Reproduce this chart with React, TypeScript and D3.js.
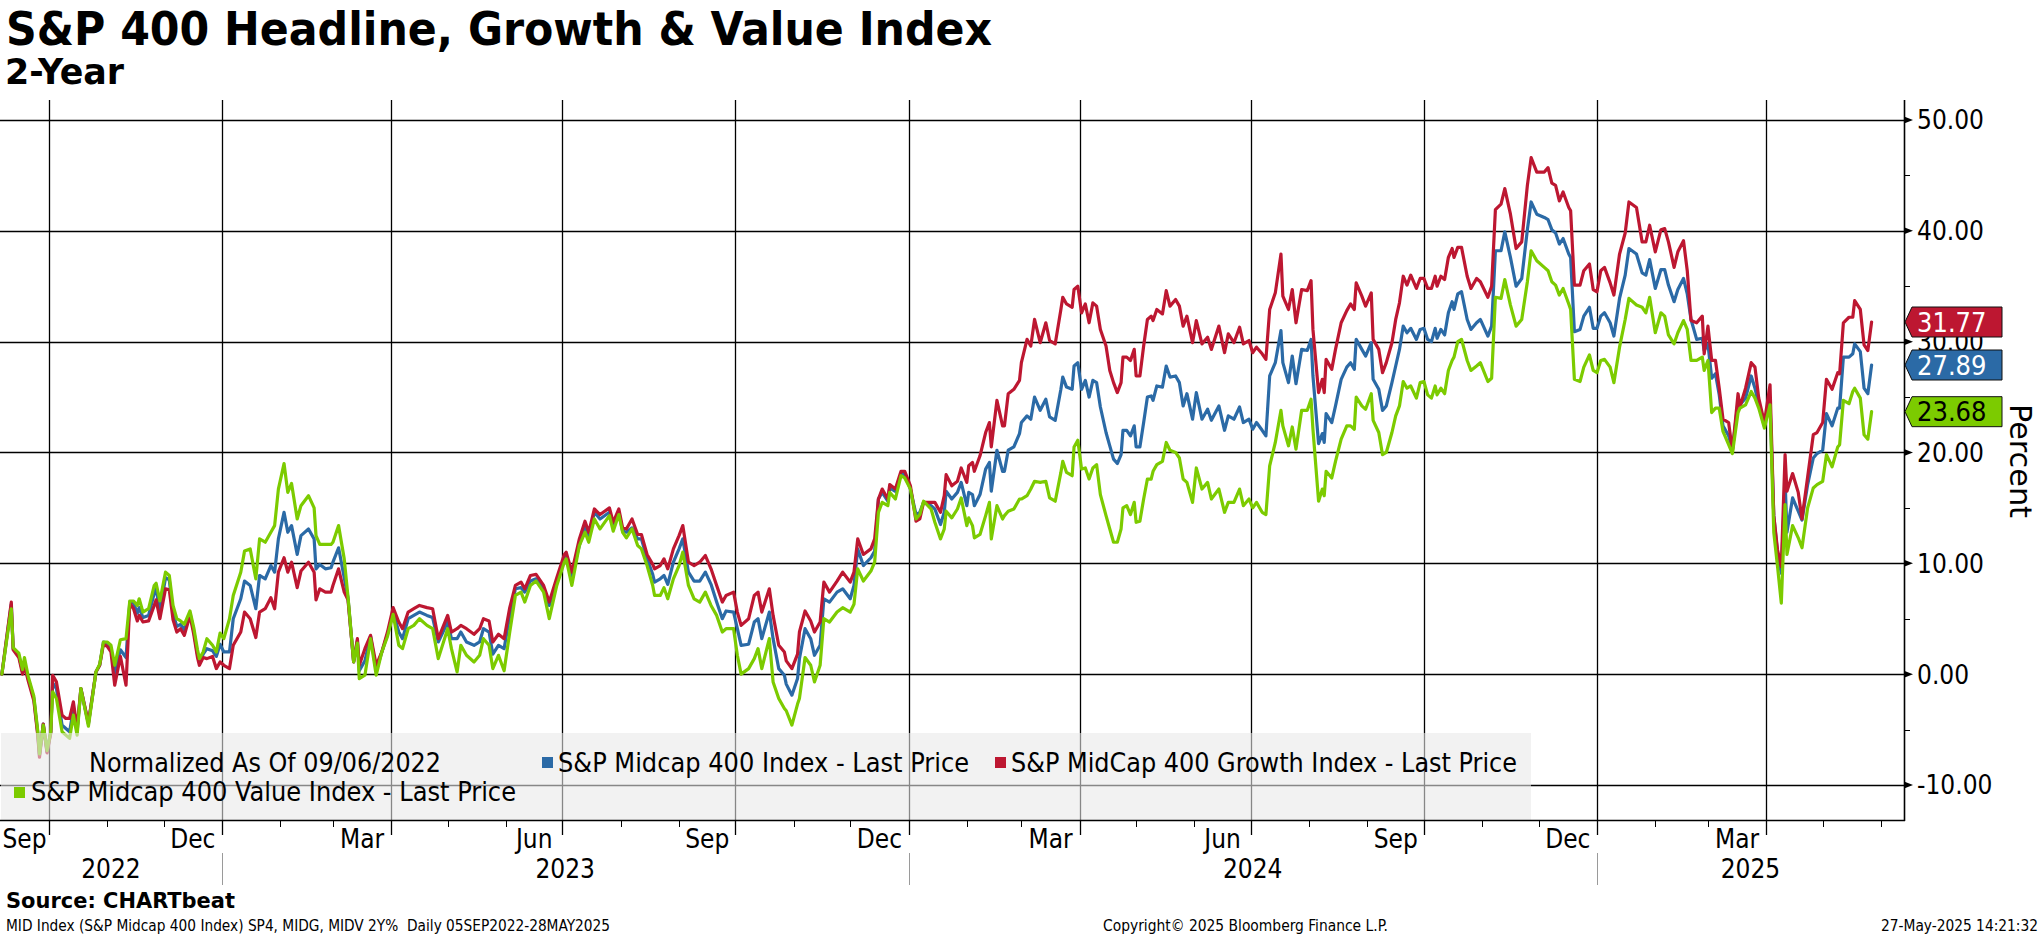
import React from 'react';
import * as d3 from 'd3';

// ---------------- DATA ----------------
const dates: string[] = [
  '2022-09-06','2022-09-09','2022-09-11','2022-09-12','2022-09-15','2022-09-17','2022-09-18','2022-09-20','2022-09-23','2022-09-25',
  '2022-09-26','2022-09-28','2022-09-30','2022-10-02','2022-10-03','2022-10-05','2022-10-08','2022-10-10','2022-10-12','2022-10-14',
  '2022-10-16','2022-10-18','2022-10-22','2022-10-26','2022-10-28','2022-10-30','2022-11-01','2022-11-03','2022-11-05','2022-11-08',
  '2022-11-11','2022-11-13','2022-11-15','2022-11-17','2022-11-18','2022-11-20','2022-11-23','2022-11-26','2022-11-27','2022-11-29',
  '2022-12-02','2022-12-04','2022-12-06','2022-12-08','2022-12-10','2022-12-12','2022-12-15','2022-12-17','2022-12-19','2022-12-20',
  '2022-12-22','2022-12-24','2022-12-27','2022-12-29','2022-12-31','2023-01-02','2023-01-05','2023-01-07','2023-01-11','2023-01-13',
  '2023-01-16','2023-01-19','2023-01-21','2023-01-24','2023-01-27','2023-01-29','2023-01-31','2023-02-03','2023-02-05','2023-02-07',
  '2023-02-10','2023-02-12','2023-02-16','2023-02-19','2023-02-20','2023-02-22','2023-02-25','2023-02-28','2023-03-01','2023-03-04',
  '2023-03-07','2023-03-09','2023-03-12','2023-03-14','2023-03-15','2023-03-18','2023-03-21','2023-03-24','2023-03-27','2023-03-30',
  '2023-04-02','2023-04-05','2023-04-07','2023-04-10','2023-04-13','2023-04-16','2023-04-20','2023-04-23','2023-04-26','2023-05-01',
  '2023-05-03','2023-05-06','2023-05-08','2023-05-11','2023-05-15','2023-05-18','2023-05-20','2023-05-23','2023-05-25','2023-05-28',
  '2023-05-31','2023-06-03','2023-06-06','2023-06-09','2023-06-11','2023-06-14','2023-06-17','2023-06-21','2023-06-24','2023-06-28',
  '2023-07-02','2023-07-03','2023-07-06','2023-07-10','2023-07-13','2023-07-15','2023-07-18','2023-07-21','2023-07-26','2023-07-28',
  '2023-07-31','2023-08-02','2023-08-04','2023-08-07','2023-08-10','2023-08-12','2023-08-15','2023-08-18','2023-08-19','2023-08-22',
  '2023-08-24','2023-08-26','2023-08-29','2023-09-01','2023-09-03','2023-09-06','2023-09-09','2023-09-12','2023-09-15','2023-09-18',
  '2023-09-21','2023-09-24','2023-09-26','2023-09-30','2023-10-02','2023-10-04','2023-10-08','2023-10-11','2023-10-13','2023-10-15',
  '2023-10-19','2023-10-21','2023-10-24','2023-10-27','2023-10-28','2023-10-31','2023-11-03','2023-11-04','2023-11-07','2023-11-10',
  '2023-11-12','2023-11-15','2023-11-17','2023-11-20','2023-11-24','2023-11-27','2023-12-01','2023-12-03','2023-12-05','2023-12-08',
  '2023-12-12','2023-12-14','2023-12-16','2023-12-18','2023-12-21','2023-12-22','2023-12-25','2023-12-28','2023-12-30','2024-01-02',
  '2024-01-05','2024-01-07','2024-01-09','2024-01-13','2024-01-15','2024-01-18','2024-01-20','2024-01-21','2024-01-24','2024-01-27',
  '2024-01-29','2024-02-01','2024-02-02','2024-02-04','2024-02-05','2024-02-08','2024-02-11','2024-02-13','2024-02-14','2024-02-17',
  '2024-02-20','2024-02-21','2024-02-23','2024-02-26','2024-02-29','2024-03-01','2024-03-04','2024-03-06','2024-03-08','2024-03-11',
  '2024-03-14','2024-03-16','2024-03-19','2024-03-22','2024-03-23','2024-03-25','2024-03-28','2024-03-29','2024-03-31','2024-04-02',
  '2024-04-04','2024-04-06','2024-04-08','2024-04-10','2024-04-12','2024-04-15','2024-04-17','2024-04-19','2024-04-21','2024-04-23',
  '2024-04-24','2024-04-26','2024-04-28','2024-04-30','2024-05-01','2024-05-03','2024-05-05','2024-05-07','2024-05-09','2024-05-10',
  '2024-05-12','2024-05-15','2024-05-17','2024-05-19','2024-05-22','2024-05-24','2024-05-26','2024-05-28','2024-05-31','2024-06-02',
  '2024-06-05','2024-06-08','2024-06-10','2024-06-14','2024-06-17','2024-06-19','2024-06-22','2024-06-25','2024-06-27','2024-06-30',
  '2024-07-02','2024-07-04','2024-07-07','2024-07-09','2024-07-11','2024-07-14','2024-07-17','2024-07-18','2024-07-21','2024-07-23',
  '2024-07-25','2024-07-28','2024-07-31','2024-08-02','2024-08-03','2024-08-06','2024-08-08','2024-08-09','2024-08-10','2024-08-13',
  '2024-08-15','2024-08-18','2024-08-21','2024-08-23','2024-08-25','2024-08-26','2024-08-29','2024-08-31','2024-09-03','2024-09-04',
  '2024-09-07','2024-09-09','2024-09-11','2024-09-14','2024-09-16','2024-09-18','2024-09-20','2024-09-22','2024-09-24','2024-09-27',
  '2024-09-29','2024-10-01','2024-10-03','2024-10-05','2024-10-07','2024-10-08','2024-10-10','2024-10-12','2024-10-14','2024-10-16',
  '2024-10-17','2024-10-19','2024-10-21','2024-10-24','2024-10-26','2024-10-29','2024-10-31','2024-11-04','2024-11-06','2024-11-08',
  '2024-11-11','2024-11-13','2024-11-16','2024-11-19','2024-11-22','2024-11-25','2024-11-27','2024-11-30','2024-12-04','2024-12-06',
  '2024-12-08','2024-12-10','2024-12-12','2024-12-14','2024-12-17','2024-12-18','2024-12-20','2024-12-23','2024-12-25','2024-12-28',
  '2024-12-30','2025-01-01','2025-01-03','2025-01-05','2025-01-08','2025-01-10','2025-01-13','2025-01-16','2025-01-18','2025-01-22',
  '2025-01-25','2025-01-27','2025-01-29','2025-02-01','2025-02-04','2025-02-06','2025-02-08','2025-02-11','2025-02-13','2025-02-16',
  '2025-02-18','2025-02-20','2025-02-23','2025-02-26','2025-02-27','2025-03-01','2025-03-03','2025-03-05','2025-03-07','2025-03-09',
  '2025-03-12','2025-03-14','2025-03-17','2025-03-18','2025-03-21','2025-03-24','2025-03-26','2025-03-28','2025-03-31','2025-04-03',
  '2025-04-05','2025-04-07','2025-04-09','2025-04-11','2025-04-12','2025-04-15','2025-04-18','2025-04-20','2025-04-23','2025-04-26',
  '2025-04-28','2025-05-01','2025-05-03','2025-05-06','2025-05-09','2025-05-10','2025-05-12','2025-05-15','2025-05-17','2025-05-18',
  '2025-05-21','2025-05-23','2025-05-25','2025-05-27',
];

// S&P MidCap 400 Growth Index (red)
const growth: number[] = [
  0,3.9,6.5,2.2,1.5,0.0,0.8,-0.6,-2.4,-5.4,
  -7.5,-4.5,-7.1,-5.3,-0.1,-0.7,-3.7,-4.0,-4.0,-2.5,
  -4.9,-1.3,-4.4,0.2,0.8,2.7,2.5,2.0,-1.0,1.6,
  -1.0,6.4,5.9,4.8,5.3,4.7,4.8,6.2,6.7,5.0,
  7.7,7.6,4.9,3.8,4.1,3.5,5.3,3.6,1.5,0.8,
  1.5,1.4,1.6,0.5,1.1,0.8,0.5,2.6,3.8,5.6,
  5.0,3.3,5.6,5.9,6.9,5.9,9.2,10.5,9.2,10.1,
  7.8,9.3,10.1,9.2,6.7,7.7,7.4,7.4,8.0,9.5,
  7.4,6.7,1.1,3.2,0.8,2.3,3.5,0.8,2.0,3.8,
  6.0,4.7,4.1,5.6,5.9,6.2,6.0,5.9,3.2,5.3,
  3.8,4.1,4.4,4.1,3.6,4.1,5.0,4.8,2.9,3.6,
  3.2,6.0,8.0,8.3,7.7,8.9,9.0,8.0,6.5,8.7,
  10.8,11.0,9.2,12.2,13.8,12.8,14.9,14.4,15.0,13.7,
  14.9,13.2,13.1,14.0,12.6,12.6,10.8,9.9,9.5,9.8,
  10.4,9.5,11.3,12.5,13.4,10.1,9.8,10.1,10.7,9.5,
  8.0,6.5,7.1,7.4,5.6,4.4,5.0,7.1,7.4,5.6,
  7.7,5.3,2.6,2.0,1.2,0.5,1.8,3.8,5.7,4.8,
  3.8,4.7,8.3,7.4,8.4,9.2,8.3,9.2,12.2,10.8,
  11.3,12.2,15.8,16.7,15.8,17.1,16.7,18.3,18.3,17.0,
  13.8,14.0,15.5,15.5,15.5,14.6,16.1,18.0,17.0,17.4,
  18.6,17.3,18.8,19.1,18.3,19.7,21.8,22.7,20.5,24.7,
  22.4,22.4,25.3,25.7,26.5,28.1,30.2,29.6,32.0,29.9,
  31.7,30.1,29.8,32.9,34.0,33.4,33.1,34.7,35.0,32.6,
  33.4,31.7,33.5,33.2,31.1,29.6,27.4,26.3,25.4,26.3,
  28.6,28.6,28.3,29.3,26.9,26.9,29.6,32.0,32.3,31.9,
  32.9,32.5,34.6,33.2,33.8,33.2,31.4,32.3,29.9,31.9,
  29.8,30.4,29.3,31.4,29.0,30.7,29.9,31.3,29.8,30.1,
  29.0,29.5,28.9,28.4,32.9,34.4,37.9,34.1,32.9,34.7,
  31.7,34.7,34.6,35.5,31.1,25.4,26.6,25.4,28.4,27.5,
  29.3,31.7,32.8,33.4,32.9,35.3,34.1,33.2,34.4,30.2,
  29.3,27.2,28.1,29.9,32.0,33.5,35.9,35.1,36.0,34.8,
  35.7,35.7,34.8,34.8,35.9,35.0,35.9,35.6,37.6,38.4,
  37.6,38.5,38.5,35.9,34.8,35.7,35.4,34.0,35.0,41.9,
  42.4,43.8,41.5,38.4,39.0,44.1,46.6,45.3,45.3,45.7,
  44.3,44.1,42.7,43.5,42.1,41.8,35.1,35.1,36.4,37.0,
  34.7,34.5,36.4,36.7,35.3,34.2,37.9,39.8,42.6,42.1,
  39.0,39.0,40.5,38.1,40.1,40.2,39.0,36.7,38.1,39.1,
  36.4,31.9,31.7,32.3,28.9,31.4,28.3,28.3,25.8,23.0,
  22.7,20.1,25.3,24.1,25.8,28.1,27.7,24.9,22.7,26.1,
  14.3,11.2,9.7,19.8,16.5,18.1,16.4,14.0,17.8,21.6,
  21.8,22.7,26.6,25.7,27.2,27.1,31.7,32.2,32.2,33.7,
  32.9,29.7,29.2,31.77,
];

// S&P MidCap 400 Index (blue)
const midcap: number[] = [
  0,3.8,6.3,2.3,1.7,0.2,0.9,-0.4,-2.2,-5.2,
  -7.3,-4.5,-7.0,-5.2,-0.8,-1.3,-4.6,-4.9,-5.2,-3.2,
  -5.2,-1.3,-4.5,0.2,0.8,2.9,2.8,2.3,0.0,2.2,
  1.5,6.5,6.4,5.5,6.0,5.1,5.3,7.3,7.7,5.7,
  8.7,8.5,5.5,4.3,4.5,4.0,5.5,3.9,1.8,1.1,
  1.8,2.3,2.1,1.6,2.7,2.0,2.0,5.0,6.8,8.4,
  8.0,5.9,8.9,8.6,9.8,9.2,12.2,14.6,12.8,13.4,
  10.8,12.5,13.1,12.2,9.5,9.9,9.5,9.6,10.1,11.4,
  8.7,6.9,1.1,3.0,0.3,1.2,3.4,0.3,2.0,3.6,
  5.6,3.8,3.2,5.0,5.3,5.6,5.3,5.1,2.9,4.7,
  3.2,3.2,3.8,2.9,2.6,2.9,4.1,3.8,1.8,2.6,
  2.3,5.3,7.7,7.8,7.4,8.4,8.6,7.7,6.2,8.4,
  10.5,10.7,8.9,11.6,13.4,12.5,14.6,14.0,14.6,13.4,
  14.6,12.9,12.8,13.2,12.2,12.2,10.4,9.0,8.3,8.6,
  8.9,8.1,10.1,11.3,12.2,9.2,8.4,8.4,9.2,8.1,
  6.5,5.0,5.7,5.6,4.1,2.6,2.7,4.7,5.0,3.2,
  5.6,3.2,0.5,-0.1,-0.9,-1.9,-0.4,1.4,4.1,3.2,
  1.7,2.6,6.8,6.5,7.4,7.7,6.8,8.0,11.3,9.8,
  10.5,11.1,15.8,16.4,15.6,16.8,16.5,18.0,18.0,16.7,
  14.4,14.6,15.5,15.2,14.9,13.5,14.6,16.5,15.8,16.4,
  17.3,15.2,16.4,16.2,15.2,16.2,18.5,19.1,16.5,20.2,
  18.3,18.3,20.2,20.5,21.7,22.7,23.3,23.0,25.0,23.8,
  24.8,23.2,22.9,25.7,26.8,25.9,25.7,27.8,28.1,25.7,
  26.5,25.0,26.5,26.3,24.1,21.8,20.6,19.4,19.0,19.8,
  22.0,22.0,21.5,22.4,20.5,20.5,22.7,25.0,25.1,24.7,
  26.0,25.9,27.8,26.8,26.9,26.3,24.2,25.3,23.0,25.4,
  23.0,23.9,22.9,24.2,22.0,23.3,23.0,24.1,22.7,23.0,
  22.1,22.7,22.0,21.5,26.9,28.1,31.0,28.1,26.3,28.7,
  26.2,29.3,29.2,30.2,26.9,20.8,21.7,20.9,23.5,22.7,
  24.2,26.6,27.7,28.1,27.5,30.2,29.3,28.7,29.9,26.6,
  25.7,23.8,24.2,26.3,27.8,29.3,31.4,30.8,31.2,30.2,
  31.1,31.2,30.2,30.0,31.2,30.3,31.1,30.6,32.6,33.6,
  32.9,34.3,34.5,32.0,31.1,31.7,32.0,30.5,31.4,38.2,
  38.2,39.9,37.6,35.0,35.7,40.1,42.6,41.5,41.2,41.0,
  40.1,39.8,38.8,39.3,37.9,37.6,30.9,31.1,32.3,33.1,
  31.2,31.2,32.3,32.6,31.7,30.5,33.9,36.0,38.4,37.9,
  36.2,36.0,37.4,34.8,36.5,36.5,35.1,33.6,34.7,35.7,
  34.3,32.0,30.2,30.3,29.2,29.8,26.7,27.1,25.2,22.4,
  21.5,20.2,24.6,24.3,24.9,26.9,25.8,24.3,22.4,24.6,
  14.3,10.9,9.1,17.5,12.8,15.9,14.7,13.9,17.1,19.5,
  19.9,20.2,23.5,22.4,24.0,24.0,28.6,28.6,28.9,29.8,
  29.1,25.8,25.3,27.89,
];

// S&P MidCap 400 Value Index (green)
const valueIdx: number[] = [
  0,3.6,5.9,2.4,1.9,0.4,1.5,-0.2,-2.0,-5.0,
  -7.2,-4.6,-6.9,-5.2,-1.6,-2.2,-5.2,-5.5,-5.8,-3.7,
  -5.5,-1.3,-4.7,0.2,0.9,2.9,2.9,2.6,0.8,3.1,
  3.2,6.6,6.6,6.2,6.8,5.6,5.9,8.0,8.2,6.6,
  9.2,8.9,6.2,5.0,4.8,4.5,5.7,4.2,2.2,1.4,
  2.0,3.2,2.6,2.0,3.7,3.2,5.0,7.1,9.2,11.1,
  11.3,8.6,12.2,11.9,12.8,13.4,16.7,19.0,16.4,17.2,
  14.0,15.2,16.1,15.0,12.5,11.7,11.7,11.7,11.9,13.4,
  10.4,7.0,1.1,2.8,-0.4,-0.1,3.2,-0.1,2.0,3.4,
  5.4,2.6,2.3,4.1,4.4,5.0,4.4,4.1,1.4,4.1,
  2.3,0.2,2.6,1.7,1.1,1.7,3.2,2.6,0.5,1.7,
  0.3,3.8,7.1,7.4,6.5,8.0,8.4,7.4,5.0,8.0,
  10.1,10.4,8.0,11.6,12.8,11.9,14.0,13.1,14.3,12.9,
  14.4,12.8,12.3,13.1,11.6,11.3,9.8,8.0,7.1,7.1,
  7.8,6.8,8.6,9.8,11.0,8.0,6.8,6.5,7.4,6.2,
  5.3,3.8,4.1,4.1,1.7,0.0,0.5,1.4,2.3,0.5,
  3.2,-0.7,-2.2,-3.1,-3.3,-4.6,-2.7,-2.2,1.5,0.8,
  -0.7,0.8,5.0,4.7,5.6,6.0,5.6,6.3,9.5,8.4,
  9.3,10.1,14.6,15.5,15.2,16.4,15.8,17.9,17.7,16.7,
  14.0,14.4,15.6,14.9,13.7,12.2,13.1,14.7,14.1,14.9,
  15.9,13.4,14.1,13.4,12.3,12.6,14.3,15.5,12.2,15.2,
  14.0,14.3,14.7,14.9,15.8,15.8,16.1,16.7,17.4,17.3,
  17.4,15.9,15.6,18.2,19.2,18.2,17.9,20.5,21.1,18.5,
  18.6,17.6,18.6,18.9,16.2,14.3,13.1,11.9,11.9,13.1,
  15.0,15.2,14.4,15.5,13.7,13.8,15.8,17.6,17.6,18.3,
  18.9,19.2,20.9,20.2,20.0,19.5,17.6,17.3,15.5,18.6,
  16.7,17.3,15.8,16.7,14.6,15.5,15.5,16.7,15.2,15.8,
  15.0,15.5,14.6,14.4,18.8,20.9,23.8,22.4,20.6,22.3,
  20.3,23.8,23.8,24.8,22.1,15.6,16.7,16.1,18.3,17.7,
  19.2,21.2,22.4,22.4,22.1,25.0,24.2,23.9,25.3,22.9,
  21.8,19.8,20.0,21.8,23.3,24.2,26.4,25.8,26.0,24.9,
  26.3,26.4,25.2,24.9,26.0,25.2,25.8,25.3,27.4,28.3,
  28.6,30.0,30.2,28.3,27.4,27.8,28.1,26.4,26.7,34.0,
  33.9,35.6,33.3,31.4,32.0,35.4,38.2,37.3,36.7,36.4,
  35.4,35.1,34.2,34.8,33.4,32.9,26.6,26.4,27.7,28.8,
  27.4,27.2,28.3,28.4,27.7,26.3,29.5,32.0,33.9,33.3,
  33.1,32.6,34.0,30.8,32.6,32.3,30.6,29.8,30.8,31.9,
  31.1,28.3,28.3,28.6,27.4,28.3,23.6,24.0,24.0,21.9,
  20.7,19.9,23.6,24.0,24.3,25.5,24.9,24.0,22.2,24.3,
  12.8,9.7,6.4,15.3,10.8,13.4,12.3,11.4,15.0,16.8,
  17.1,17.4,19.8,18.7,20.5,20.7,24.7,24.4,25.5,25.8,
  24.9,21.6,21.2,23.68,
];

const seriesNames: string[] = [
  'S&P Midcap 400 Index - Last Price',
  'S&P MidCap 400 Growth Index - Last Price',
  'S&P Midcap 400 Value Index - Last Price',
];
const seriesColors: string[] = ['#2b6aa6', '#bd1731', '#7ccb00'];
const boxTextColors: string[] = ['#ffffff', '#ffffff', '#000000'];

const yTicks: number[] = [-10, 0, 10, 20, 30, 40, 50];
const yMinorTicks: number[] = [-5, 5, 15, 25, 35, 45];

const titleText = 'S&P 400 Headline, Growth & Value Index';
const subtitleText = '2-Year';
const normalizedText = 'Normalized As Of 09/06/2022';
const sourceText = 'Source: CHARTbeat';
const footerLeft = 'MID Index (S&P Midcap 400 Index) SP4, MIDG, MIDV 2Y%  Daily 05SEP2022-28MAY2025';
const footerMid = 'Copyright\u00A9 2025 Bloomberg Finance L.P.';
const footerRight = '27-May-2025 14:21:32';
const axisTitle = 'Percent';

// ---------------- LAYOUT ----------------
const W = 2041;
const H = 936;
const plotLeft = 0;
const plotRight = 1904;
const plotTop = 100;
const plotBottom = 820;

const COND = "'DejaVu Sans Condensed', 'DejaVu Sans', 'Liberation Sans Narrow', sans-serif";
const SANS = "'DejaVu Sans', Verdana, sans-serif";

const parse = d3.timeParse('%Y-%m-%d');

export default function App() {
  const parsed = dates.map((d) => parse(d) as Date);

  const x = d3
    .scaleTime()
    .domain([parse('2022-09-05') as Date, parse('2025-06-01') as Date])
    .range([0, 1881]);
  const y = d3.scaleLinear().domain([-13.16, 51.8]).range([plotBottom, plotTop]);

  const seriesData = [midcap, growth, valueIdx];
  const line = d3
    .line<number>()
    .x((_, i) => x(parsed[i]))
    .y((v) => y(v));

  const monthTicks = d3.timeMonth.range(parse('2022-10-01') as Date, parse('2025-06-02') as Date);
  const quarterLines = monthTicks.filter((m) => m.getMonth() % 3 === 0);
  const fmtMonth = d3.timeFormat('%b');

  const monthLabels = quarterLines.map((q) => {
    const start = d3.timeMonth.offset(q, -1);
    const x0 = Math.max(plotLeft, x(start));
    const x1 = x(q);
    return { text: fmtMonth(start), cx: (x0 + x1) / 2 };
  });

  const years = [2022, 2023, 2024, 2025];
  const yearLabels = years.map((yr) => {
    const x0 = Math.max(plotLeft, x(new Date(yr, 0, 1)));
    const x1 = Math.min(plotRight, x(new Date(yr + 1, 0, 1)));
    return { text: String(yr), cx: (x0 + x1) / 2 };
  });
  const yearSeparators = years.slice(1).map((yr) => x(new Date(yr, 0, 1)));

  // drawing order: blue, red, green on top
  const drawOrder = [0, 1, 2];

  return (
    <svg
      width={W}
      height={H}
      viewBox={`0 0 ${W} ${H}`}
      style={{ position: 'absolute', left: 0, top: 0, background: '#fff' }}
    >
      <defs>
        <clipPath id="plotClip">
          <rect x={plotLeft} y={plotTop} width={plotRight - plotLeft} height={plotBottom - plotTop} />
        </clipPath>
      </defs>
      <rect x={0} y={0} width={W} height={H} fill="#fff" />

      {/* Title */}
      <text x={6} y={45} fontFamily={COND} fontWeight="bold" fontSize={46} fill="#000" textLength={986} lengthAdjust="spacingAndGlyphs">
        {titleText}
      </text>
      <text x={5} y={84} fontFamily={COND} fontWeight="bold" fontSize={35} fill="#000" textLength={119} lengthAdjust="spacingAndGlyphs">
        {subtitleText}
      </text>

      {/* Horizontal gridlines */}
      {yTicks.map((t) => (
        <line key={'h' + t} x1={plotLeft} x2={plotRight} y1={Math.round(y(t)) + 0.5} y2={Math.round(y(t)) + 0.5} stroke="#000" strokeWidth={1.3} />
      ))}
      {/* Vertical quarter gridlines */}
      {quarterLines.map((q, i) => (
        <line key={'v' + i} x1={Math.round(x(q)) + 0.5} x2={Math.round(x(q)) + 0.5} y1={plotTop} y2={835} stroke="#000" strokeWidth={1.3} />
      ))}

      {/* Series lines */}
      <g clipPath="url(#plotClip)">
        {drawOrder.map((si) => (
          <path
            key={'s' + si}
            d={line(seriesData[si]) || ''}
            fill="none"
            stroke={seriesColors[si]}
            strokeWidth={3.2}
            strokeLinejoin="round"
            strokeLinecap="round"
          />
        ))}
      </g>

      {/* Legend box (semi-transparent) */}
      <rect x={1} y={733} width={1530} height={plotBottom - 733} fill="#e9e9e9" fillOpacity={0.58} />
      <text x={89} y={772} fontFamily={COND} fontSize={26} fill="#000" textLength={352} lengthAdjust="spacingAndGlyphs">
        {normalizedText}
      </text>
      <rect x={542} y={757} width={11} height={11} fill={seriesColors[0]} />
      <text x={558} y={772} fontFamily={COND} fontSize={26} fill="#000" textLength={411} lengthAdjust="spacingAndGlyphs">
        {seriesNames[0]}
      </text>
      <rect x={995} y={757} width={11} height={11} fill={seriesColors[1]} />
      <text x={1011} y={772} fontFamily={COND} fontSize={26} fill="#000" textLength={506} lengthAdjust="spacingAndGlyphs">
        {seriesNames[1]}
      </text>
      <rect x={14} y={787} width={11} height={11} fill={seriesColors[2]} />
      <text x={31} y={801} fontFamily={COND} fontSize={26} fill="#000" textLength={485} lengthAdjust="spacingAndGlyphs">
        {seriesNames[2]}
      </text>

      {/* Bottom axis */}
      <line x1={plotLeft} x2={plotRight + 1} y1={plotBottom + 0.5} y2={plotBottom + 0.5} stroke="#000" strokeWidth={1.6} />
      {monthTicks.map((m, i) => (
        <line key={'mt' + i} x1={Math.round(x(m)) + 0.5} x2={Math.round(x(m)) + 0.5} y1={plotBottom} y2={827} stroke="#000" strokeWidth={1} />
      ))}
      {monthLabels.map((l, i) => (
        <text key={'ml' + i} x={l.cx} y={848} textAnchor="middle" fontFamily={COND} fontSize={26} fill="#000">
          {l.text}
        </text>
      ))}
      {yearLabels.map((l, i) => (
        <text key={'yl' + i} x={l.cx} y={878} textAnchor="middle" fontFamily={COND} fontSize={26} fill="#000">
          {l.text}
        </text>
      ))}
      {yearSeparators.map((sx, i) => (
        <line key={'ys' + i} x1={Math.round(sx) + 0.5} x2={Math.round(sx) + 0.5} y1={853} y2={885} stroke="#9a9a9a" strokeWidth={1} />
      ))}

      {/* Right axis */}
      <line x1={plotRight + 0.5} x2={plotRight + 0.5} y1={plotTop} y2={plotBottom + 1} stroke="#000" strokeWidth={1.6} />
      {yMinorTicks.map((t) => (
        <line key={'mn' + t} x1={plotRight} x2={plotRight + 6} y1={Math.round(y(t)) + 0.5} y2={Math.round(y(t)) + 0.5} stroke="#000" strokeWidth={1} />
      ))}
      {yTicks.map((t) => {
        const ty = y(t);
        return (
          <g key={'yt' + t}>
            <path d={`M${plotRight},${ty - 3.5} L${plotRight + 9},${ty} L${plotRight},${ty + 3.5} Z`} fill="#000" />
            <text x={plotRight + 13} y={ty + 9.5} fontFamily={COND} fontSize={26} fill="#000">
              {t.toFixed(2)}
            </text>
          </g>
        );
      })}
      <text
        transform={`translate(2010, 461) rotate(90)`}
        textAnchor="middle"
        fontFamily={SANS}
        fontSize={30}
        fill="#000"
        textLength={114}
        lengthAdjust="spacingAndGlyphs"
      >
        {axisTitle}
      </text>

      {/* Last value boxes */}
      {[1, 0, 2].map((si) => {
        const data = seriesData[si];
        const last = data[data.length - 1];
        const cy = y(last);
        const tip = plotRight + 1;
        const x0 = 1912;
        const x1 = 2002;
        const h = 15;
        return (
          <g key={'lb' + si}>
            <path
              d={`M${tip},${cy} L${x0},${cy - h} L${x1},${cy - h} L${x1},${cy + h} L${x0},${cy + h} Z`}
              fill={seriesColors[si]}
              stroke="#111"
              strokeWidth={1}
            />
            <text x={1917} y={cy + 9.8} fontFamily={COND} fontSize={27} fill={boxTextColors[si]}>
              {last.toFixed(2)}
            </text>
          </g>
        );
      })}

      {/* Footer */}
      <text x={6} y={908} fontFamily={COND} fontWeight="bold" fontSize={21} fill="#000" textLength={229} lengthAdjust="spacingAndGlyphs">
        {sourceText}
      </text>
      <text x={6} y={931} fontFamily={COND} fontSize={15} fill="#000" textLength={604} lengthAdjust="spacingAndGlyphs" style={{ whiteSpace: 'pre' }}>
        {footerLeft}
      </text>
      <text x={1103} y={931} fontFamily={COND} fontSize={15} fill="#000" textLength={285} lengthAdjust="spacingAndGlyphs">
        {footerMid}
      </text>
      <text x={2038} y={931} textAnchor="end" fontFamily={COND} fontSize={15} fill="#000" textLength={157} lengthAdjust="spacingAndGlyphs">
        {footerRight}
      </text>
    </svg>
  );
}
